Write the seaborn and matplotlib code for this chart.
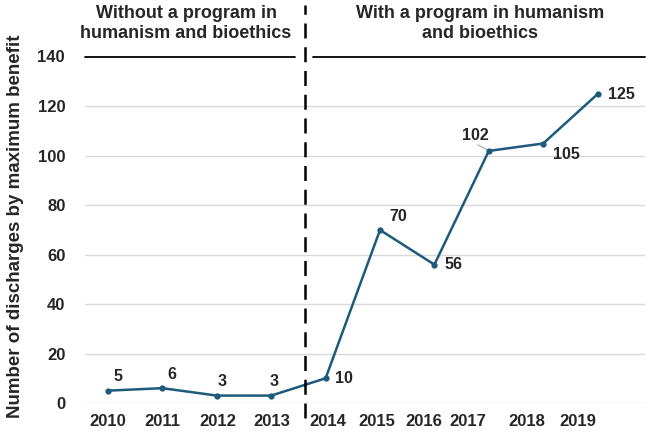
import matplotlib
matplotlib.use("Agg")
import matplotlib.pyplot as plt
import seaborn as sns
import pandas as pd
import numpy as np

years = ["2010", "2011", "2012", "2013", "2014", "2015", "2016", "2017", "2018", "2019"]
discharges = [5, 6, 3, 3, 10, 70, 56, 102, 105, 125]
yticks = [0, 20, 40, 60, 80, 100, 120, 140]
left_title = "Without a program in\nhumanism and bioethics"
right_title = "With a program in humanism\nand bioethics"
ylabel = "Number of discharges by maximum benefit"

sns.set_theme(style="white")
plt.rcParams['font.family'] = ['Liberation Sans', 'DejaVu Sans']
plt.rcParams['font.weight'] = 'bold'

df = pd.DataFrame({"idx": np.arange(len(years)), "val": discharges})

fig = plt.figure(figsize=(6.49, 4.33), dpi=100)
ax = fig.add_axes([85/649, 30/433, (645-85)/649, (403-57)/433])

color = "#1d5a7c"
sns.lineplot(data=df, x="idx", y="val", ax=ax, color=color, linewidth=1.8,
             marker="o", markersize=4.5, markeredgewidth=0, zorder=3)

sp = 54.4
ax.set_xlim(-23/sp, (645-108)/sp)
ax.set_ylim(0, 140)
ax.set_yticks(yticks[:-1])
ax.set_yticklabels([str(v) for v in yticks[:-1]], fontsize=12, fontweight='bold')
for y in yticks[:-1]:
    ax.axhline(y, color="#d9d9d9", linewidth=1, zorder=1)
# top black line with gap at the divider
ax.plot([-23/sp, (295-108)/sp], [140, 140], color="black", lw=1.3, clip_on=False, zorder=2)
ax.plot([(313-108)/sp, (645-108)/sp], [140, 140], color="black", lw=1.3, clip_on=False, zorder=2)
ax.text((65-108)/sp, 140, "140", ha="right", va="center", fontsize=12, fontweight='bold')

# x tick labels positioned as in the reference
label_px = [108, 162, 218, 272, 328, 377, 424, 468, 527, 578]
ax.set_xticks([(p-108)/sp for p in label_px])
ax.set_xticklabels(years, fontsize=12, fontweight='bold')
ax.tick_params(axis='x', length=0, pad=8)
ax.tick_params(axis='y', length=0, pad=14)
for s in ax.spines.values():
    s.set_visible(False)
ax.set_xlabel("")
ax.set_ylabel(ylabel, fontsize=13.5, fontweight='bold', labelpad=0)
ax.yaxis.set_label_coords(-(85-24)/560, 0.51)

# divider
xdiv = (305-108)/sp
ax.plot([xdiv, xdiv], [-6, 161], color="black", lw=1.8, ls=(0, (6, 3.5)), clip_on=False, zorder=4)

# titles
ax.text((186-108)/sp, 161, left_title, ha="center", va="top", fontsize=13, fontweight='bold', linespacing=1.25)
ax.text((480-108)/sp, 161, right_title, ha="center", va="top", fontsize=13, fontweight='bold', linespacing=1.25)

# value labels (offsets in points)
offsets = [(7, 10), (7, 10), (4, 10), (2, 10), (13, 0), (13, 10), (14, 0), (-10, 11), (17, -8), (17, 0)]
for i, (v, off) in enumerate(zip(discharges, offsets)):
    ax.annotate(str(v), (i, v), xytext=off, textcoords="offset points",
                ha="center", va="center", fontsize=11.5, fontweight='bold')
# leader for 102
ax.plot([6.8, 7], [104.5, 102], color="#a6a6a6", lw=0.8, zorder=2)

fig.savefig("out.png", dpi=100)
